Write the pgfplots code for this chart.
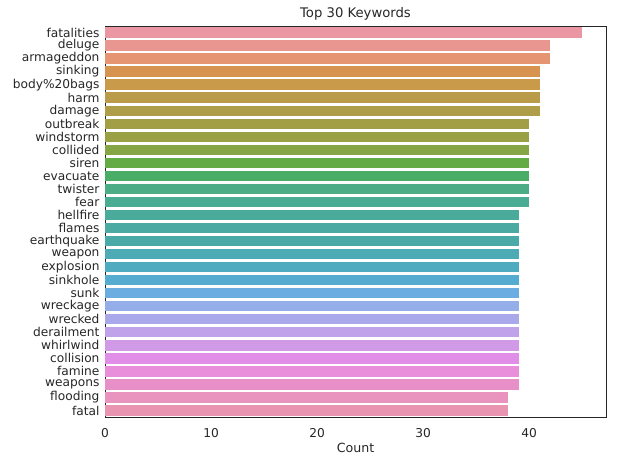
\documentclass[border=0pt]{standalone}
\usepackage{pgfplots}
\pgfplotsset{compat=1.18}
\usepackage{fontspec}
\setmainfont{DejaVu Sans}
\definecolor{txt}{HTML}{262626}
\begin{document}
\begin{tikzpicture}
\begin{axis}[
  scale only axis,
  width=501pt, height=391pt,
  xbar, bar width=10.4pt, bar shift=0pt,
  xmin=0, xmax=47.25,
  ymin=-0.5, ymax=29.5, y dir=reverse,
  xtick={0,10,20,30,40},
  ytick={0,...,29},
  yticklabels={fatalities,deluge,armageddon,sinking,body\%20bags,harm,damage,outbreak,windstorm,collided,siren,evacuate,twister,fear,hellfire,flames,earthquake,weapon,explosion,sinkhole,sunk,wreckage,wrecked,derailment,whirlwind,collision,famine,weapons,flooding,fatal},
  major tick length=0pt,
  axis line style={txt, line width=0.9pt},
  tick label style={font=\fontsize{12.2}{14}\selectfont, text=txt},
  /pgf/number format/assume math mode=true,
  xticklabel style={yshift=-8pt},
  yticklabel style={xshift=-2pt, inner ysep=0pt},
  title={Top 30 Keywords},
  title style={font=\fontsize{13.2}{15}\selectfont, text=txt, yshift=-4pt},
  xlabel={Count},
  xlabel style={font=\fontsize{12.6}{14}\selectfont, text=txt, yshift=1pt},
  every axis plot/.append style={draw=none},
]
\addplot[fill={rgb,255:red,234;green,150;blue,163}] coordinates {(45,0)};
\addplot[fill={rgb,255:red,232;green,150;blue,143}] coordinates {(42,1)};
\addplot[fill={rgb,255:red,229;green,149;blue,114}] coordinates {(42,2)};
\addplot[fill={rgb,255:red,214;green,148;blue,80}] coordinates {(41,3)};
\addplot[fill={rgb,255:red,201;green,154;blue,74}] coordinates {(41,4)};
\addplot[fill={rgb,255:red,186;green,155;blue,74}] coordinates {(41,5)};
\addplot[fill={rgb,255:red,174;green,157;blue,73}] coordinates {(41,6)};
\addplot[fill={rgb,255:red,162;green,158;blue,70}] coordinates {(40,7)};
\addplot[fill={rgb,255:red,154;green,161;blue,69}] coordinates {(40,8)};
\addplot[fill={rgb,255:red,134;green,165;blue,69}] coordinates {(40,9)};
\addplot[fill={rgb,255:red,98;green,171;blue,69}] coordinates {(40,10)};
\addplot[fill={rgb,255:red,73;green,173;blue,103}] coordinates {(40,11)};
\addplot[fill={rgb,255:red,75;green,172;blue,134}] coordinates {(40,12)};
\addplot[fill={rgb,255:red,74;green,172;blue,147}] coordinates {(40,13)};
\addplot[fill={rgb,255:red,74;green,171;blue,154}] coordinates {(39,14)};
\addplot[fill={rgb,255:red,75;green,171;blue,163}] coordinates {(39,15)};
\addplot[fill={rgb,255:red,75;green,170;blue,168}] coordinates {(39,16)};
\addplot[fill={rgb,255:red,77;green,171;blue,181}] coordinates {(39,17)};
\addplot[fill={rgb,255:red,79;green,172;blue,192}] coordinates {(39,18)};
\addplot[fill={rgb,255:red,85;green,172;blue,208}] coordinates {(39,19)};
\addplot[fill={rgb,255:red,107;green,173;blue,224}] coordinates {(39,20)};
\addplot[fill={rgb,255:red,147;green,174;blue,232}] coordinates {(39,21)};
\addplot[fill={rgb,255:red,170;green,167;blue,234}] coordinates {(39,22)};
\addplot[fill={rgb,255:red,191;green,162;blue,234}] coordinates {(39,23)};
\addplot[fill={rgb,255:red,208;green,154;blue,230}] coordinates {(39,24)};
\addplot[fill={rgb,255:red,224;green,142;blue,231}] coordinates {(39,25)};
\addplot[fill={rgb,255:red,232;green,142;blue,218}] coordinates {(39,26)};
\addplot[fill={rgb,255:red,232;green,143;blue,200}] coordinates {(39,27)};
\addplot[fill={rgb,255:red,233;green,148;blue,190}] coordinates {(38,28)};
\addplot[fill={rgb,255:red,233;green,148;blue,177}] coordinates {(38,29)};
\end{axis}
\path ([shift={(-105pt,-46pt)}]current axis.south west) rectangle ([shift={(21pt,26pt)}]current axis.north east);
\end{tikzpicture}
\end{document}
